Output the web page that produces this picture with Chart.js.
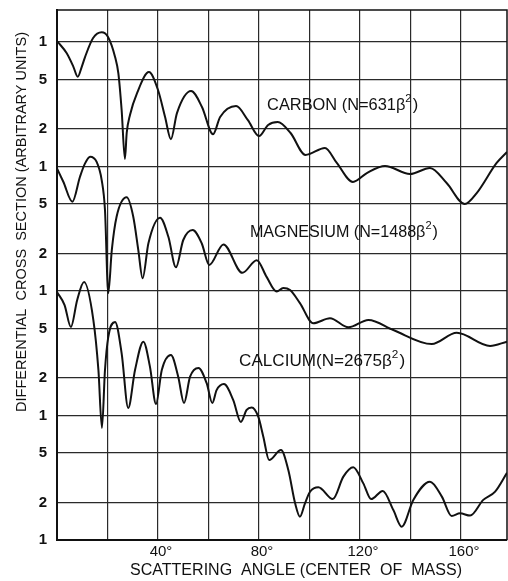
<!DOCTYPE html>
<html lang="en">
<head>
  <meta charset="UTF-8" />
  <title>Differential cross section vs scattering angle</title>
  <script src="https://cdn.jsdelivr.net/npm/chart.js@4.4.1/dist/chart.umd.min.js"></script>
  <style>
    html, body { margin: 0; padding: 0; background: #fff; }
    #wrap { width: 508px; height: 581px; }
  </style>
</head>
<body>
<div id="wrap"><canvas id="chart" width="508" height="581"></canvas></div>

<script>
  // scattering angle (deg, centre of mass) and cross section (arbitrary units, log)
  const carbonAngle = [0, 3.8, 6.5, 8.2, 9.8, 11.1, 14.3, 17.7, 20.2, 23.0, 24.3, 25.6, 26.9, 27.6, 28.9, 31.7, 36.4, 40.0, 42.8, 45.1, 47.5, 53.1, 57.4, 61.8, 64.6, 70.9, 75.6, 80.0, 83.6, 87.4, 92.5, 98.4, 106.1, 110.8, 117.2, 122.7, 129.9, 139.8, 147.7, 154.3, 161.5, 166.2, 174.1, 178.2];
  const carbonValue = [1.02, 0.816, 0.633, 0.526, 0.633, 0.758, 1.077, 1.197, 1.097, 0.758, 0.561, 0.284, 0.115, 0.186, 0.26, 0.389, 0.574, 0.412, 0.25, 0.166, 0.269, 0.404, 0.301, 0.182, 0.25, 0.306, 0.236, 0.176, 0.216, 0.228, 0.186, 0.124, 0.141, 0.107, 0.0752, 0.0887, 0.101, 0.0871, 0.0973, 0.0737, 0.05, 0.0612, 0.107, 0.131];

  const magnesiumAngle = [0, 2.5, 6.1, 9.1, 11.1, 13.1, 15.7, 17.7, 19.0, 20.3, 21.7, 23.6, 27.6, 30.2, 32.2, 33.9, 36.2, 40.8, 44.1, 47.1, 50.0, 53.7, 57.3, 60.3, 65.9, 73.4, 79.1, 83.0, 87.0, 89.6, 92.3, 96.2, 101.5, 108.1, 115.4, 123.3, 133.2, 148.4, 158.3, 171.5, 178.2];
  const magnesiumValue = [0.0967, 0.0755, 0.0522, 0.0828, 0.106, 0.12, 0.109, 0.0779, 0.0448, 0.00959, 0.0213, 0.0395, 0.0566, 0.0395, 0.0213, 0.01265, 0.0242, 0.0388, 0.0273, 0.0155, 0.0257, 0.0309, 0.0242, 0.0162, 0.0237, 0.014, 0.0177, 0.013, 0.0099, 0.0106, 0.0102, 0.008, 0.00551, 0.00604, 0.00511, 0.00585, 0.00486, 0.00375, 0.00462, 0.00362, 0.00392];

  const calciumAngle = [0, 3.0, 5.5, 8.0, 10.7, 14.4, 16.4, 17.8, 19.0, 20.3, 23.0, 25.6, 28.2, 30.9, 34.2, 36.8, 39.2, 41.5, 45.1, 48.0, 50.3, 52.7, 56.0, 59.3, 61.5, 63.2, 66.1, 69.8, 72.8, 75.1, 77.1, 79.7, 81.7, 84.0, 88.7, 91.6, 94.3, 96.2, 98.2, 100.2, 103.5, 109.2, 113.4, 117.3, 121.3, 124.4, 129.0, 133.2, 136.5, 141.1, 147.7, 152.4, 156.3, 159.6, 163.6, 168.8, 173.5, 178.2];
  const calciumValue = [0.00982, 0.00772, 0.00514, 0.00847, 0.0118, 0.00585, 0.00232, 0.000794, 0.00232, 0.00427, 0.00564, 0.00316, 0.00115, 0.00232, 0.00392, 0.00247, 0.00124, 0.00232, 0.00306, 0.00205, 0.00126, 0.00205, 0.00241, 0.00181, 0.00126, 0.0016, 0.00179, 0.00133, 0.000887, 0.00111, 0.00116, 0.000978, 0.000676, 0.000439, 0.000528, 0.000365, 0.000197, 0.000154, 0.000197, 0.000244, 0.000265, 0.000213, 0.000323, 0.000384, 0.000285, 0.000213, 0.000248, 0.000174, 0.000128, 0.00021, 0.000294, 0.000223, 0.000156, 0.000164, 0.000157, 0.00021, 0.000245, 0.000347];

  const xTicks = [0, 20, 40, 60, 80, 100, 120, 140, 160];
  const xTickLabels = ['', '', '40°', '', '80°', '', '120°', '', '160°'];
  const yTicks = [1, 0.5, 0.2, 0.1, 0.05, 0.02, 0.01, 0.005, 0.002, 0.001, 0.0005, 0.0002, 0.0001];
  const yTickLabels = ['1', '5', '2', '1', '5', '2', '1', '5', '2', '1', '5', '2', '1'];

  const curveLabels = ['CARBON (N=631β²)', 'MAGNESIUM (N=1488β²)', 'CALCIUM(N=2675β²)'];
  const xTitle = 'SCATTERING  ANGLE (CENTER  OF  MASS)';
  const yTitle = 'DIFFERENTIAL  CROSS  SECTION (ARBITRARY UNITS)';

  const INK = '#111';
  const FONT = '"Liberation Sans", Arial, sans-serif';

  const toPoints = (xs, ys) => xs.map((x, i) => ({ x, y: ys[i] }));

  const curve = (data) => ({
    data,
    borderColor: INK,
    borderWidth: 2,
    pointRadius: 0,
    fill: false,
    cubicInterpolationMode: 'monotone'
  });

  // text squeezed/stretched to a given width, like the hand lettering
  const fitText = (ctx, text, x, y, width) => {
    const w = ctx.measureText(text).width;
    ctx.save();
    ctx.translate(x, y);
    ctx.scale(width / w, 1);
    ctx.fillText(text, 0, 0);
    ctx.restore();
  };

  // same, but with a real raised "2" for the beta squared
  const fitLabel = (ctx, text, x, y, width) => {
    const [head, tail] = text.split('²');
    ctx.font = `16px ${FONT}`;
    const wHead = ctx.measureText(head).width;
    const wTail = ctx.measureText(tail).width;
    ctx.font = `11px ${FONT}`;
    const wSup = ctx.measureText('2').width + 1;
    const k = width / (wHead + wSup + wTail);
    ctx.save();
    ctx.translate(x, y);
    ctx.scale(k, 1);
    ctx.font = `16px ${FONT}`;
    ctx.fillText(head, 0, 0);
    ctx.fillText(tail, wHead + wSup, 0);
    ctx.font = `11px ${FONT}`;
    ctx.fillText('2', wHead, -8);
    ctx.restore();
  };

  const lettering = {
    id: 'lettering',
    afterDraw(chart) {
      const { ctx, chartArea: a, scales: { x, y } } = chart;
      ctx.save();

      // top and right edges of the frame
      ctx.strokeStyle = INK;
      ctx.lineWidth = 1.5;
      ctx.beginPath();
      ctx.moveTo(a.left, a.top);
      ctx.lineTo(a.right, a.top);
      ctx.lineTo(a.right, a.bottom);
      ctx.stroke();

      ctx.fillStyle = INK;
      ctx.textBaseline = 'alphabetic';
      ctx.textAlign = 'left';

      const spots = [[83.2, 0.284, 151], [76.4, 0.0272, 188], [72.1, 0.0025, 166]];
      curveLabels.forEach((t, i) => {
        const [ax, vy, w] = spots[i];
        fitLabel(ctx, t, x.getPixelForValue(ax), y.getPixelForValue(vy), w);
      });

      ctx.font = `16px ${FONT}`;
      fitText(ctx, xTitle, 130, 575, 332);

      ctx.save();
      ctx.translate(26, 412);
      ctx.rotate(-Math.PI / 2);
      ctx.font = `15px ${FONT}`;
      fitText(ctx, yTitle, 0, 0, 380);
      ctx.restore();

      ctx.restore();
    }
  };

  new Chart(document.getElementById('chart'), {
    type: 'line',
    data: {
      datasets: [
        curve(toPoints(carbonAngle, carbonValue)),
        curve(toPoints(magnesiumAngle, magnesiumValue)),
        curve(toPoints(calciumAngle, calciumValue))
      ]
    },
    options: {
      responsive: false,
      animation: false,
      layout: { padding: { top: 10, right: 1, left: 0, bottom: 0 } },
      plugins: { legend: { display: false }, tooltip: { enabled: false } },
      scales: {
        x: {
          type: 'linear',
          min: 0,
          max: 178.2,
          afterBuildTicks: s => { s.ticks = xTicks.map(v => ({ value: v })); },
          afterFit: s => { s.height = 41; s.paddingLeft = 0; s.paddingRight = 0; },
          ticks: {
            callback: (v, i) => xTickLabels[i],
            autoSkip: false,
            maxRotation: 0,
            padding: 3,
            labelOffset: 3,
            color: INK,
            font: { family: FONT, size: 15 }
          },
          grid: { color: '#2a2a2a', lineWidth: 1.2, drawTicks: false },
          border: { color: INK, width: 2 }
        },
        y: {
          type: 'logarithmic',
          min: 0.0001,
          max: 1.81,
          afterBuildTicks: s => { s.ticks = yTicks.map(v => ({ value: v })); },
          afterFit: s => { s.width = 57; s.paddingTop = 0; s.paddingBottom = 0; },
          ticks: {
            callback: (v, i) => yTickLabels[i],
            autoSkip: false,
            padding: 10,
            color: INK,
            font: { family: FONT, size: 15, weight: 'bold' }
          },
          grid: { color: '#2a2a2a', lineWidth: 1.2, drawTicks: false },
          border: { color: INK, width: 2 }
        }
      }
    },
    plugins: [lettering]
  });
</script>
</body>
</html>
